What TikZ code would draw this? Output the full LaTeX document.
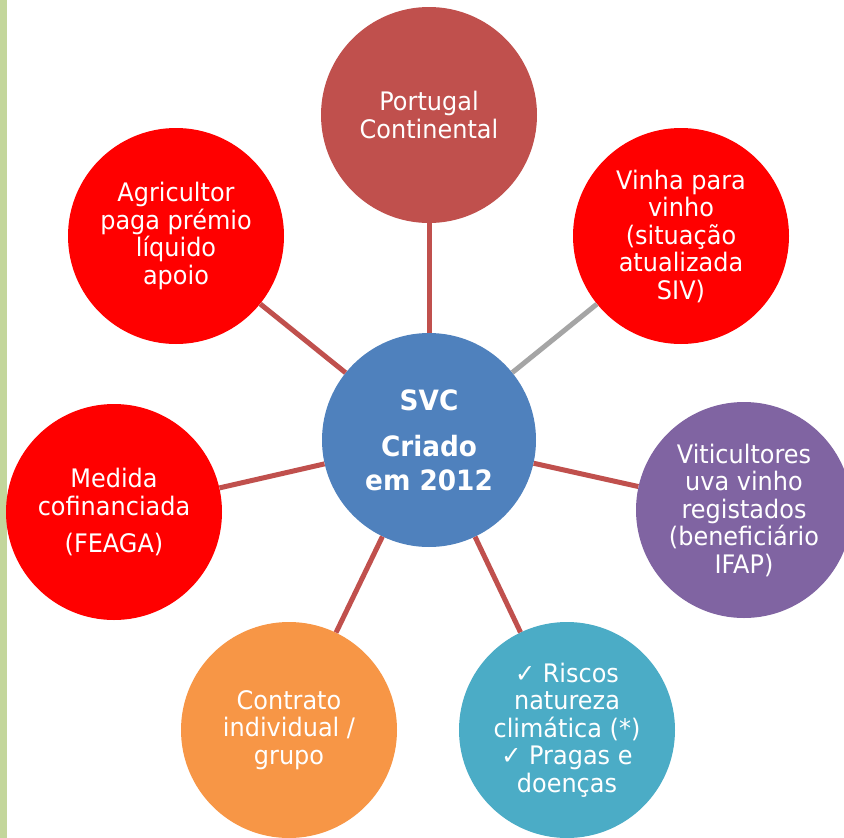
\documentclass[tikz,border=0pt]{standalone}
\usepackage{fontspec}
\setmainfont{DejaVu Sans}[FakeStretch=0.94]
\definecolor{hubblue}{HTML}{4F81BD}
\definecolor{darkred}{HTML}{C0504D}
\definecolor{brightred}{HTML}{FF0000}
\definecolor{purplec}{HTML}{8064A2}
\definecolor{tealc}{HTML}{4BACC6}
\definecolor{orangec}{HTML}{F79646}
\definecolor{greyline}{HTML}{A5A5A5}
\definecolor{stripgreen}{HTML}{C3D69B}
\begin{document}
\begin{tikzpicture}[x=1pt,y=-1pt,
  bubble/.style={circle, minimum size=216pt, inner sep=0pt, text=white, align=center,
    font=\fontsize{25.5}{27.5}\selectfont},
  hubstyle/.style={circle, minimum size=214pt, inner sep=0pt, text=white, align=center,
    fill=hubblue, font=\bfseries\fontsize{28}{34}\selectfont},
  link/.style={line width=5pt, draw=darkred},
  greylink/.style={line width=5pt, draw=greyline}]
\useasboundingbox (0,0) rectangle (844,838);
\fill[white] (0,0) rectangle (844,838);
\fill[stripgreen] (0,0) rectangle (7,838);

\node[hubstyle] (hub) at (429,440) {SVC\\[12pt]Criado\\em 2012};

\node[bubble, fill=darkred] (top) at (429,115) {Portugal\\Continental};
\node[bubble, fill=brightred] (vinha) at (681,236) {Vinha para\\vinho\\(situação\\atualizada\\SIV)};
\node[bubble, fill=purplec] (viti) at (744,510) {Viticultores\\uva vinho\\registados\\(beneficiário\\IFAP)};
\node[bubble, fill=tealc] (riscos) at (567,730) {✓ Riscos\\natureza\\climática (*)\\✓ Pragas e\\doenças};
\node[bubble, fill=orangec] (contrato) at (289,730) {Contrato\\individual /\\grupo};
\node[bubble, fill=brightred] (medida) at (114,512) {Medida\\cofinanciada\\[10pt](FEAGA)};
\node[bubble, fill=brightred] (agri) at (176,236) {Agricultor\\paga prémio\\líquido\\apoio};

\draw[link] (hub) -- (top);
\draw[greylink] (hub) -- (vinha);
\draw[link] (hub) -- (viti);
\draw[link] (hub) -- (riscos);
\draw[link] (hub) -- (contrato);
\draw[link] (hub) -- (medida);
\draw[link] (hub) -- (agri);
\end{tikzpicture}
\end{document}
